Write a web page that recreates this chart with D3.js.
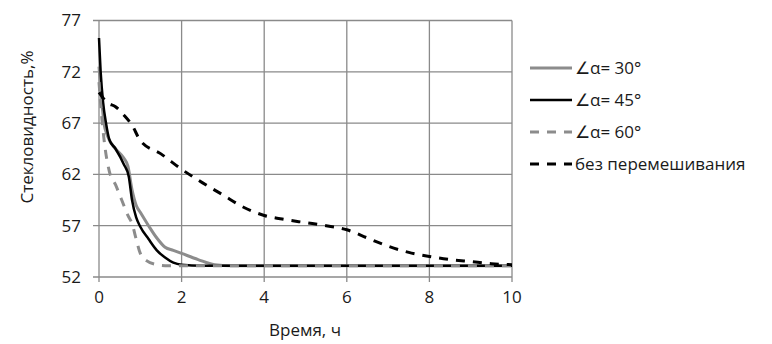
<!DOCTYPE html>
<html>
<head>
<meta charset="utf-8">
<script src="https://cdn.jsdelivr.net/npm/d3@7"></script>
<style>
  body { margin: 0; background: #fff; }
  text { font-family: "Open Sans", sans-serif; fill: #1a1a1a; }
</style>
</head>
<body>
<script>
// time, h
const t30 = [0, 0.05, 0.12, 0.2, 0.4, 0.6, 0.7, 0.8, 0.9, 1.0, 1.2, 1.4, 1.6, 1.8, 2.0, 2.4, 2.8, 3.2, 10];
const v30 = [72.5, 70, 67, 65.8, 64.5, 63.6, 62.8, 60.5, 59, 58.3, 57, 55.8, 54.9, 54.6, 54.3, 53.7, 53.2, 53.1, 53.1];

const t45 = [0, 0.04, 0.1, 0.17, 0.25, 0.4, 0.6, 0.72, 0.8, 0.9, 1.0, 1.2, 1.4, 1.6, 1.8, 2.0, 2.5, 10];
const v45 = [75.3, 72, 69, 67, 65.4, 64.5, 63, 61.8, 59.5, 57.8, 56.9, 55.7, 54.6, 53.9, 53.4, 53.2, 53.1, 53.1];

const t60 = [0, 0.08, 0.15, 0.25, 0.4, 0.55, 0.7, 0.8, 0.9, 1.0, 1.15, 1.4, 1.6, 10];
const v60 = [71, 67, 64.5, 62.3, 61, 59.5, 58, 57.2, 55.7, 54.3, 53.6, 53.2, 53.1, 53.1];

const tNo = [0, 0.2, 0.4, 0.6, 0.8, 1.0, 1.5, 2.0, 2.5, 3.0, 3.5, 4.0, 4.5, 5.0, 5.5, 6.0, 6.5, 7.0, 7.5, 8.0, 8.5, 9.0, 9.5, 10];
const vNo = [70, 69, 68.6, 67.8, 66.8, 65.3, 64, 62.5, 61.2, 60, 58.8, 58, 57.6, 57.3, 57, 56.6, 55.8, 55, 54.4, 54, 53.7, 53.5, 53.3, 53.2];

const seriesNames = ['∠α= 30°', '∠α= 45°', '∠α= 60°', 'без перемешивания'];
const xTicks = [0, 2, 4, 6, 8, 10];
const yTicks = [52, 57, 62, 67, 72, 77];

const styles = [
  { color: '#8c8c8c', width: 3, dash: null },
  { color: '#000', width: 2.5, dash: null },
  { color: '#8c8c8c', width: 3, dash: '9,8' },
  { color: '#000', width: 3, dash: '9,8' }
];

const series = [[t30, v30], [t45, v45], [t60, v60], [tNo, vNo]].map(([t, v], i) => ({
  name: seriesNames[i],
  points: t.map((d, j) => [d, v[j]]),
  style: styles[i]
}));

const W = 772, H = 344;
const svg = d3.select('body').append('svg').attr('width', W).attr('height', H);

const x = d3.scaleLinear().domain([0, 10]).range([99, 512]);
const y = d3.scaleLinear().domain([52, 77]).range([277, 20.5]);

// grid
svg.append('g')
  .selectAll('line')
  .data(xTicks)
  .join('line')
    .attr('x1', d => x(d)).attr('x2', d => x(d))
    .attr('y1', y(77)).attr('y2', y(52) + 5)
    .attr('stroke', '#8a8a8a').attr('stroke-width', 1.3);

svg.append('g')
  .selectAll('line')
  .data(yTicks)
  .join('line')
    .attr('x1', x(0) - 6).attr('x2', x(10))
    .attr('y1', d => y(d)).attr('y2', d => y(d))
    .attr('stroke', '#8a8a8a').attr('stroke-width', 1.3);

// tick labels
svg.append('g')
  .selectAll('text')
  .data(yTicks)
  .join('text')
    .attr('x', 81).attr('y', d => y(d))
    .attr('dy', '0.35em')
    .attr('text-anchor', 'end')
    .attr('font-size', 17)
    .text(d => d);

svg.append('g')
  .selectAll('text')
  .data(xTicks)
  .join('text')
    .attr('x', d => x(d)).attr('y', 303)
    .attr('text-anchor', 'middle')
    .attr('font-size', 17)
    .text(d => d);

svg.append('text')
  .attr('x', 305).attr('y', 336)
  .attr('text-anchor', 'middle')
  .attr('font-size', 17)
  .text('Время, ч');

svg.append('text')
  .attr('transform', 'translate(33,127) rotate(-90)')
  .attr('text-anchor', 'middle')
  .attr('font-size', 17)
  .text('Стекловидность,%');

// lines
const line = d3.line()
  .x(d => x(d[0]))
  .y(d => y(d[1]))
  .curve(d3.curveMonotoneX);

svg.append('g')
  .selectAll('path')
  .data(series)
  .join('path')
    .attr('d', d => line(d.points))
    .attr('fill', 'none')
    .attr('stroke', d => d.style.color)
    .attr('stroke-width', d => d.style.width)
    .attr('stroke-dasharray', d => d.style.dash);

// legend
const legend = svg.append('g')
  .selectAll('g')
  .data(series)
  .join('g')
    .attr('transform', (d, i) => `translate(530,${68 + i * 32})`);

legend.append('line')
  .attr('x1', 0).attr('x2', 42)
  .attr('stroke', d => d.style.color)
  .attr('stroke-width', d => d.style.width)
  .attr('stroke-dasharray', d => d.style.dash);

legend.append('text')
  .attr('x', 45).attr('dy', '0.35em')
  .attr('font-size', 17)
  .text(d => d.name);
</script>
</body>
</html>
